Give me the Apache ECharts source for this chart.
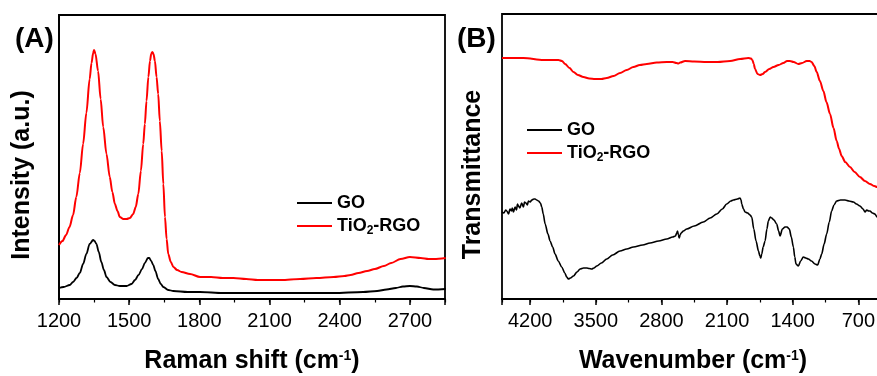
<!DOCTYPE html>
<html>
<head>
<meta charset="utf-8">
<script src="https://cdn.jsdelivr.net/npm/echarts@6/dist/echarts.min.js"></script>
<style>
  html, body { margin: 0; padding: 0; background: #fff; }
  #chart { width: 877px; height: 376px; }
</style>
</head>
<body>
<div id="chart"></div>
<script>
// (A) Raman spectra, intensity in arbitrary units
const ramanShiftRGO = [1200, 1215, 1230, 1245, 1260, 1274, 1289, 1303, 1317, 1331, 1339, 1346, 1350, 1356, 1367, 1378, 1389, 1403, 1417, 1428, 1439, 1450, 1460, 1475, 1489, 1503, 1517, 1528, 1539, 1550, 1560, 1567, 1574, 1582, 1589, 1594, 1599, 1604, 1610, 1617, 1624, 1631, 1639, 1646, 1653, 1660, 1667, 1678, 1689, 1705, 1724, 1760, 1803, 1850, 1900, 1946, 2000, 2050, 2089, 2150, 2231, 2300, 2374, 2420, 2446, 2480, 2517, 2550, 2589, 2620, 2660, 2700, 2746, 2780, 2803, 2853];
const ramanRGO = [54, 58, 64, 72, 84, 102, 126, 155, 186, 220, 236, 246, 249, 245, 228, 200, 172, 145, 122, 107, 95, 88, 82, 80, 80, 81, 85, 92, 105, 128, 155, 175, 198, 222, 238, 245, 247, 245, 238, 222, 205, 178, 148, 115, 82, 60, 45, 37, 32, 29, 27, 25, 22, 22, 21, 21, 20, 19, 19, 19, 20, 21, 22, 23, 24, 26, 28, 30, 33, 36, 40, 42, 41, 40, 40, 41];
const ramanShiftGO = [1200, 1220, 1246, 1260, 1275, 1289, 1303, 1317, 1331, 1346, 1352, 1360, 1370, 1381, 1392, 1403, 1420, 1439, 1460, 1489, 1510, 1525, 1540, 1555, 1567, 1580, 1586, 1594, 1603, 1612, 1624, 1635, 1646, 1667, 1689, 1750, 1803, 1900, 2000, 2089, 2200, 2374, 2500, 2560, 2600, 2640, 2670, 2700, 2730, 2760, 2800, 2853];
const ramanGO = [11, 12, 14, 17, 21, 26, 35, 45, 55, 59, 58, 55, 47, 37, 29, 22, 17, 14, 13, 13, 15, 19, 24, 30, 36, 41, 41, 38, 34, 28, 20, 15, 12, 9, 8, 7, 7, 6, 6, 6, 6, 6, 7, 8, 9.5, 11, 12.5, 13, 12.5, 11, 9.5, 10];

// (B) FTIR spectra, transmittance in arbitrary units
const waveRGO = [4500, 4271, 4058, 3898, 3860, 3827, 3780, 3738, 3690, 3632, 3570, 3507, 3440, 3383, 3310, 3241, 3170, 3099, 3030, 2956, 2850, 2743, 2680, 2640, 2619, 2600, 2548, 2450, 2317, 2200, 2068, 1960, 1873, 1845, 1830, 1815, 1802, 1775, 1748, 1720, 1695, 1650, 1606, 1550, 1500, 1460, 1429, 1390, 1340, 1300, 1251, 1220, 1198, 1170, 1144, 1110, 1073, 1040, 1002, 965, 931, 905, 878, 840, 789, 740, 683, 630, 576, 530, 501, 450, 400];
const ftirRGO = [241, 241, 239, 239, 238, 235, 231, 227, 224, 222, 220.5, 220, 220, 221, 223, 226, 229, 232, 234, 235, 236.5, 237, 237, 236, 235.5, 236.5, 238, 237.5, 237, 237, 238, 240, 241, 240.5, 239, 235, 230, 225, 224, 225, 227, 230, 232, 234, 236, 238, 238, 237, 235, 236, 238, 238, 237, 233, 227, 218, 208, 197, 185, 171, 158, 150, 143, 137, 132, 127, 122, 118, 115, 113, 112, 111, 110];
const waveGO = [4500, 4480, 4460, 4449, 4430, 4415, 4400, 4390, 4378, 4360, 4345, 4335, 4324, 4310, 4290, 4271, 4260, 4245, 4230, 4218, 4200, 4182, 4160, 4147, 4130, 4111, 4090, 4076, 4060, 4040, 4010, 3987, 3960, 3934, 3900, 3863, 3830, 3810, 3792, 3770, 3738, 3700, 3667, 3630, 3596, 3570, 3543, 3520, 3489, 3440, 3383, 3320, 3241, 3170, 3099, 3000, 2921, 2830, 2743, 2680, 2650, 2637, 2628, 2619, 2610, 2601, 2590, 2566, 2530, 2450, 2353, 2280, 2210, 2150, 2104, 2060, 2033, 1990, 1962, 1950, 1944, 1925, 1908, 1880, 1855, 1837, 1815, 1791, 1765, 1750, 1741, 1730, 1715, 1695, 1675, 1660, 1640, 1624, 1600, 1571, 1550, 1535, 1510, 1482, 1460, 1436, 1415, 1393, 1378, 1365, 1340, 1315, 1287, 1260, 1233, 1200, 1162, 1134, 1110, 1091, 1065, 1038, 1010, 985, 960, 931, 890, 842, 800, 753, 720, 683, 650, 629, 610, 590, 576, 550, 523, 501, 450, 400];
const ftirGO = [87, 86, 89, 88, 85, 90, 88, 91, 87, 92, 89, 95, 93, 91, 96, 92, 97, 96, 94, 98, 97, 99, 100, 100, 99, 98, 96, 92, 85, 75, 65, 58, 52, 45, 38, 32, 26, 22, 20, 21, 23, 27, 30, 31, 31, 30.5, 30, 31, 33, 36, 40, 44, 48, 50, 52, 54, 56, 58, 60, 62, 63, 66, 68, 64, 61, 64, 66, 68, 70, 73, 77, 81, 85, 90, 95, 98, 99, 100, 101, 99, 95, 90, 87, 86, 84, 82, 70, 58, 48, 43, 41, 45, 52, 58, 70, 78, 82, 81, 79, 75, 68, 63, 70, 72, 72, 70, 62, 52, 42, 35, 33, 38, 42, 41, 40, 38, 35, 34, 40, 45, 55, 65, 77, 88, 94, 98, 99, 99, 98, 97, 95, 93, 90, 87, 89, 88, 88, 86, 85, 82, 82, 82];

const ramanTicks = [1200, 1500, 1800, 2100, 2400, 2700];
const ftirTicks = [4200, 3500, 2800, 2100, 1400, 700];

const font = 'Liberation Sans, Arial, sans-serif';
const pairs = (xs, ys) => xs.map((x, i) => [x, ys[i]]);

const legendRich = {
  t: { fontFamily: font, fontSize: 18, fontWeight: 'bold', color: '#000' },
  s: { fontFamily: font, fontSize: 12, fontWeight: 'bold', color: '#000', verticalAlign: 'bottom', padding: [9, 0, 0, 0] }
};
function nameStyle(pad) {
  return {
    padding: pad,
    rich: {
      b: { fontFamily: font, fontSize: 25, fontWeight: 'bold', color: '#000' },
      sup: { fontFamily: font, fontSize: 14, fontWeight: 'bold', color: '#000', verticalAlign: 'top', padding: [0, 0, 10, 0] }
    }
  };
}

function majorAxis(grid, min, max, interval, ticks, name, inverse, pad) {
  return {
    type: 'value', gridIndex: grid, min: min, max: max, interval: interval, inverse: inverse,
    axisLine: { show: true, lineStyle: { color: '#000', width: 1.8 } },
    axisTick: { show: true, length: 6, lineStyle: { color: '#000', width: 1.5 } },
    axisLabel: {
      margin: 12, color: '#000', fontFamily: font, fontSize: 20,
      formatter: v => ticks.includes(v) ? String(v) : ''
    },
    splitLine: { show: false },
    name: name, nameLocation: 'middle', nameGap: 50,
    nameTextStyle: nameStyle(pad)
  };
}
function minorAxis(grid, min, max, interval, inverse) {
  return {
    type: 'value', gridIndex: grid, min: min, max: max, interval: interval, inverse: inverse,
    position: 'bottom', offset: 0,
    axisLine: { show: false },
    axisTick: { show: true, length: 3.5, lineStyle: { color: '#000', width: 1.2 } },
    axisLabel: { show: false },
    splitLine: { show: false }
  };
}
function plainY(grid, max, name, gap) {
  return {
    type: 'value', gridIndex: grid, min: 0, max: max,
    axisLine: { show: true, lineStyle: { color: '#000', width: 1.8 } },
    axisTick: { show: false }, axisLabel: { show: false }, splitLine: { show: false },
    name: name, nameLocation: 'middle', nameGap: gap,
    nameTextStyle: { fontFamily: font, fontSize: 25, fontWeight: 'bold', color: '#000', padding: [0, 36, 0, 0] }
  };
}
function legendAt(left, top) {
  return {
    orient: 'vertical', left: left, top: top, itemGap: 5,
    itemWidth: 35, itemHeight: 2, icon: 'rect',
    data: ['GO', 'TiO2-RGO'],
    formatter: n => n === 'GO' ? '{t|GO}' : '{t|TiO}{s|2}{t|-RGO}',
    textStyle: { rich: legendRich }
  };
}
function line(name, color, data, xi, yi, width) {
  return {
    type: 'line', name: name, data: data, xAxisIndex: xi, yAxisIndex: yi,
    showSymbol: false, smooth: 0.3, smoothMonotone: 'x',
    lineStyle: { color: color, width: width }, itemStyle: { color: color },
    animation: false
  };
}
const gridBase = { show: true, borderColor: '#000', borderWidth: 1.8, backgroundColor: 'transparent', outerBoundsMode: 'none', containLabel: false };

const chart = echarts.init(document.getElementById('chart'));
chart.setOption({
  animation: false,
  backgroundColor: '#fff',
  title: [
    { text: '(A)', left: 10, top: 20, textStyle: { fontFamily: font, fontSize: 28, fontWeight: 'bold', color: '#000' } },
    { text: '(B)', left: 452, top: 20, textStyle: { fontFamily: font, fontSize: 28, fontWeight: 'bold', color: '#000' } }
  ],
  grid: [
    Object.assign({ left: 59, top: 15, width: 386, height: 284 }, gridBase),
    Object.assign({ left: 502, top: 14, width: 422, height: 285 }, gridBase)
  ],
  xAxis: [
    majorAxis(0, 1200, 2850, 300, ramanTicks, '{b|Raman shift (cm}{sup|-1}{b|)}', false, [0, 0, 0, 0]),
    minorAxis(0, 1200, 2850, 150, false),
    majorAxis(1, 0, 4500, 700, ftirTicks, '{b|Wavenumber (cm}{sup|-1}{b|)}', true, [0, 40, 0, 0]),
    minorAxis(1, 0, 4500, 350, true)
  ],
  yAxis: [
    plainY(0, 284, 'Intensity (a.u.)', 24),
    plainY(1, 285, 'Transmittance', 16)
  ],
  legend: [legendAt(292, 189), legendAt(522, 116)],
  series: [
    line('GO', '#000', pairs(ramanShiftGO, ramanGO), 0, 0, 1.8),
    line('TiO2-RGO', '#ff0000', pairs(ramanShiftRGO, ramanRGO), 0, 0, 2),
    line('GO', '#000', pairs(waveGO, ftirGO), 2, 1, 1.6),
    line('TiO2-RGO', '#ff0000', pairs(waveRGO, ftirRGO), 2, 1, 2)
  ]
});
</script>
</body>
</html>
